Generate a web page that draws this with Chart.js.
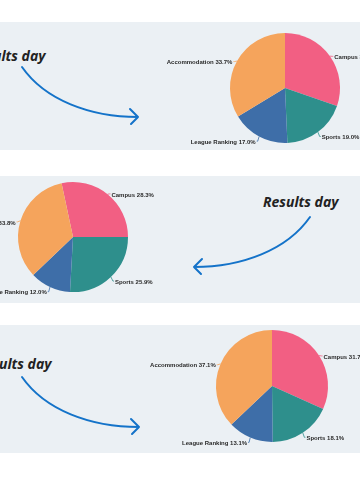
<!DOCTYPE html>
<html lang="en">
<head>
  <meta charset="UTF-8">
  <title>Results day</title>
  <script src="https://cdn.jsdelivr.net/npm/chart.js"></script>
  <style>
    * { margin: 0; padding: 0; box-sizing: border-box; }
    body { width: 360px; height: 500px; background: #fff; position: relative; overflow: hidden; }
    .panel { position: absolute; left: 0; width: 360px; background: #ebf0f4; }
    .panel canvas { position: absolute; left: 0; top: 0; }
    .title {
      position: absolute; font-family: 'Open Sans', sans-serif; font-weight: 700; font-style: italic;
      font-size: 14px; color: #222; white-space: nowrap; line-height: 1;
    }
    svg.arrow { position: absolute; left: 0; top: 0; overflow: visible; }
  </style>
</head>
<body>
  <div class="panel" id="p1" style="top:22px;height:128px;">
    <div class="title" style="left:-30px;top:27px;">Results day</div>
    <svg class="arrow" width="360" height="128"><path d="M22 45 C 45 78, 90 95, 138 95 M130 87 L138 95 L131 102" fill="none" stroke="#1473c9" stroke-width="2" stroke-linecap="round" stroke-linejoin="round"/></svg>
    <canvas id="c1" width="360" height="128"></canvas>
  </div>
  <div class="panel" id="p2" style="top:176px;height:127px;">
    <div class="title" style="left:263px;top:19px;">Results day</div>
    <svg class="arrow" width="360" height="127"><path d="M310 41 C 287 74, 242 91, 194 91 M202 83 L194 91 L201 98" fill="none" stroke="#1473c9" stroke-width="2" stroke-linecap="round" stroke-linejoin="round"/></svg>
    <canvas id="c2" width="360" height="127"></canvas>
  </div>
  <div class="panel" id="p3" style="top:325px;height:128px;">
    <div class="title" style="left:-24px;top:32px;">Results day</div>
    <svg class="arrow" width="360" height="128"><path d="M22 52 C 45 85, 90 102, 139 102 M131 94 L139 102 L132 109" fill="none" stroke="#1473c9" stroke-width="2" stroke-linecap="round" stroke-linejoin="round"/></svg>
    <canvas id="c3" width="360" height="128"></canvas>
  </div>

  <script>
    const categories = ['Campus', 'Sports', 'League Ranking', 'Accommodation'];
    const colours = ['#f25f83', '#2e8f8c', '#3e6ea8', '#f5a45c'];
    const shares1 = [30.3, 19.0, 17.0, 33.7];
    const shares2 = [28.3, 25.9, 12.0, 33.8];
    const shares3 = [31.7, 18.1, 13.1, 37.1];

    // labels outside each slice with a short leader line
    const outsideLabels = {
      id: 'outsideLabels',
      afterDatasetsDraw(chart) {
        const ctx = chart.ctx;
        const ds = chart.data.datasets[0];
        ctx.save();
        ctx.font = 'bold 6px "Liberation Sans", Arial, sans-serif';
        ctx.textBaseline = 'middle';
        chart.getDatasetMeta(0).data.forEach((arc, i) => {
          const p = arc.getProps(['x', 'y', 'startAngle', 'endAngle', 'outerRadius'], true);
          const mid = (p.startAngle + p.endAngle) / 2;
          const cos = Math.cos(mid), sin = Math.sin(mid);
          const x0 = p.x + cos * p.outerRadius, y0 = p.y + sin * p.outerRadius;
          const x1 = p.x + cos * (p.outerRadius + 3), y1 = p.y + sin * (p.outerRadius + 3) + 2;
          const right = cos >= 0;
          const x2 = x1 + (right ? 1 : -1);
          ctx.strokeStyle = colours[i];
          ctx.lineWidth = 0.8;
          ctx.beginPath();
          ctx.moveTo(x0, y0);
          ctx.lineTo(x1, y1);
          ctx.lineTo(x2, y1);
          ctx.stroke();
          ctx.fillStyle = '#2a2a2a';
          ctx.textAlign = right ? 'left' : 'right';
          ctx.fillText(chart.data.labels[i] + ' ' + ds.data[i].toFixed(1) + '%', x2 + (right ? 1 : -1), y1 + 1);
        });
        ctx.restore();
      }
    };

    function makePie(id, data, rotation, padding) {
      new Chart(document.getElementById(id), {
        type: 'pie',
        data: {
          labels: categories,
          datasets: [{ data: data, backgroundColor: colours, borderWidth: 0 }]
        },
        options: {
          responsive: false,
          animation: false,
          rotation: rotation,
          layout: { padding: padding },
          plugins: { legend: { display: false }, tooltip: { enabled: false } }
        },
        plugins: [outsideLabels]
      });
    }

    makePie('c1', shares1, 0, { left: 230, right: 20, top: 11, bottom: 7 });
    makePie('c2', shares2, -12, { left: 18, right: 232, top: 6, bottom: 11 });
    makePie('c3', shares3, 0, { left: 216, right: 32, top: 5, bottom: 11 });
  </script>
</body>
</html>
